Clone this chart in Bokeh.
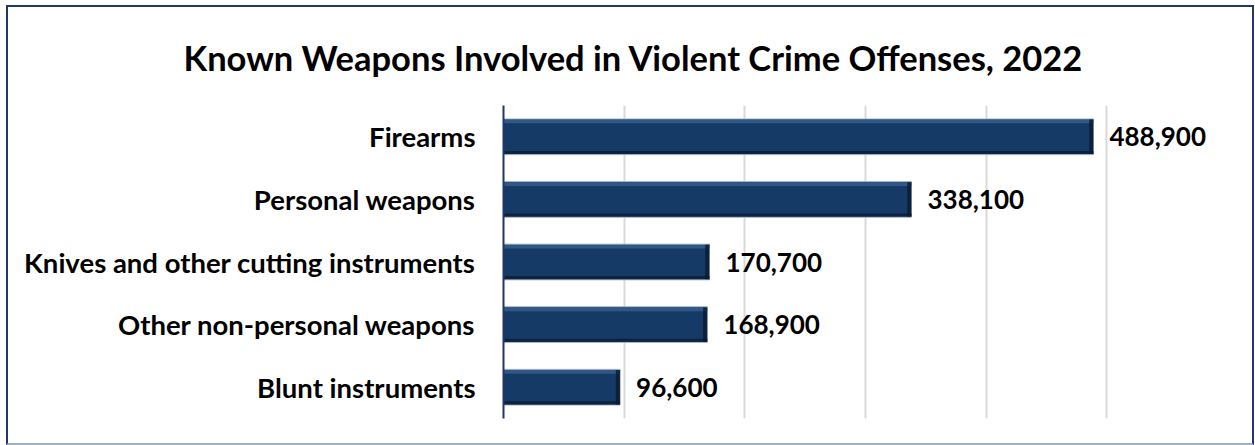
from bokeh.plotting import figure
from bokeh.models import FactorRange, Range1d, Title, ColumnDataSource, SingleIntervalTicker
from bokeh.transform import dodge
from bokeh.core.properties import value
from bokeh.embed import file_html
from bokeh.resources import INLINE

categories = ["Firearms", "Personal weapons", "Knives and other cutting instruments",
              "Other non-personal weapons", "Blunt instruments"]
counts = [488900, 338100, 170700, 168900, 96600]
labels = [f"{v:,}" for v in counts]
title_text = "Known Weapons Involved in Violent Crime Offenses, 2022"

src = ColumnDataSource(dict(cat=categories, val=counts, lab=labels))

p = figure(width=1248, height=440, output_backend="svg", toolbar_location=None,
           y_range=FactorRange(factors=categories[::-1], range_padding=0),
           x_range=Range1d(0, 600000),
           min_border_left=495, min_border_right=29, min_border_top=97, min_border_bottom=29)
p.styles = {"border": "2px solid #1F3864", "border-bottom-color": "#9DB0C8",
            "box-sizing": "border-box", "margin-left": "6px", "margin-top": "5px"}

t = Title(text=title_text, align="left", text_font="Lato", text_font_size="34.5px",
          text_font_style="bold", text_color="#000000", standoff=55, offset=-320,
          text_line_height=1.0)
p.add_layout(t, "above")

p.outline_line_color = None
p.background_fill_color = "white"
p.border_fill_color = "white"

p.xaxis.visible = False
p.xaxis.ticker = SingleIntervalTicker(interval=100000)
p.xgrid.ticker = SingleIntervalTicker(interval=100000)
p.xgrid.grid_line_color = "#D9D9D9"
p.xgrid.grid_line_width = 2
p.ygrid.grid_line_color = None

yax = p.yaxis[0]
yax.axis_line_color = "#1F3864"
yax.axis_line_width = 2
yax.major_tick_line_color = None
yax.minor_tick_line_color = None
yax.major_label_text_font = "Lato"
yax.major_label_text_font_style = "bold"
yax.major_label_text_font_size = "27.5px"
yax.major_label_text_color = "#000000"
yax.major_label_standoff = 22

bh = 0.57
p.hbar(y="cat", right="val", left=0, height=bh, source=src,
       fill_color="#163A66", line_color="#A9B9CC", line_width=1)
p.hbar(y=dodge("cat", bh / 2 - 0.04, range=p.y_range), right="val", left=0, height=0.06,
       source=src, fill_color="#3A6190", fill_alpha=0.75, line_color=None)
p.hbar(y=dodge("cat", -bh / 2 + 0.035, range=p.y_range), right="val", left=0, height=0.05,
       source=src, fill_color="#0A1D36", fill_alpha=0.8, line_color=None)
p.hbar(y="cat", right="val", left=dodge("val", -3500), height=bh - 0.02, source=src,
       fill_color="#0A1A30", fill_alpha=0.8, line_color=None)

p.text(x="val", y="cat", text="lab", source=src, x_offset=16,
       text_font=value("Lato"), text_font_style="bold", text_font_size="26px",
       text_baseline="middle", text_align="left", text_color="#000000")

open("out.html", "w").write(file_html(p, INLINE))
